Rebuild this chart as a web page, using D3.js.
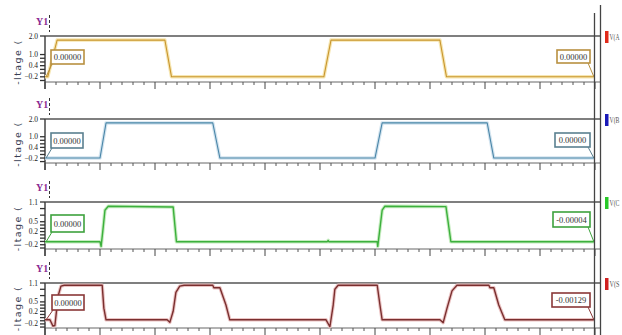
<!DOCTYPE html>
<html>
<head>
<meta charset="utf-8">
<script src="https://cdn.jsdelivr.net/npm/d3@7"></script>
<style>
  html, body { margin: 0; padding: 0; background: #fff; overflow: hidden; }
  svg { display: block; }
</style>
</head>
<body>
<svg id="chart" width="622" height="335"></svg>
<script>
// ---------------- DATA ----------------
const seriesNames = ["V(A", "V(B", "V(C", "V(S"];

// time axis (arbitrary units, 10 major divisions)
const xMajorTicks = [0, 10, 20, 30, 40, 50, 60, 70, 80, 90, 100];
const xMinorTicks = [2,4,6,8,12,14,16,18,22,24,26,28,32,34,36,38,42,44,46,48,52,54,56,58,62,64,66,68,72,74,76,78,82,84,86,88,92,94,96,98];

// y tick labels
const yLabelsAB = [2.0, 1.0, 0.4, -0.2];
const yMinorAB = [-0.4, -0.2, 0.0, 0.2, 0.4, 0.6, 0.8, 1.0, 2.0];
const yLabelsCS = [1.1, 0.5, 0.2, -0.2];
const yMinorCS = [-0.3, -0.2, -0.1, 0.0, 0.1, 0.2, 0.3, 0.4, 0.5, 0.7, 0.9, 1.1];

// waveforms
const timeA = [0, 0.5, 2.2, 21.8, 23.0, 50.7, 52.0, 71.8, 73.0, 99.8];
const voltA = [-0.2, -0.2, 1.78, 1.78, -0.2, -0.2, 1.78, 1.78, -0.2, -0.2];

const timeB = [0, 10.0, 11.1, 30.5, 31.8, 60.0, 61.3, 80.4, 81.6, 99.8];
const voltB = [-0.2, -0.2, 1.78, 1.78, -0.2, -0.2, 1.78, 1.78, -0.2, -0.2];

const timeC = [0, 10.0, 10.2, 10.5, 10.9, 11.5, 23.3, 23.9, 51.3, 51.5, 51.6, 60.4, 60.5, 60.9, 61.3, 61.8, 72.9, 73.8, 99.8];
const voltC = [-0.11, -0.11, -0.25, 0.2, 0.85, 0.97, 0.95, -0.11, -0.11, -0.07, -0.11, -0.11, -0.25, 0.3, 0.85, 0.97, 0.96, -0.11, -0.11];

const timeS = [0, 0.9, 1.45, 1.8, 2.4, 2.9, 3.5, 10.4, 10.7, 11.1, 22.2, 22.7, 23.3, 23.8, 24.5, 25.3, 30.5, 30.7, 31.8, 32.9, 33.6, 51.1, 51.8, 52.4, 52.7, 53.3, 60.4, 60.9, 61.3, 71.8, 72.4, 73.1, 74.0, 74.9, 80.7, 80.9, 81.6, 82.5, 83.6, 99.8];
const voltS = [-0.07, -0.07, -0.27, -0.25, 0.7, 1.0, 1.03, 1.03, 0.3, -0.07, -0.07, -0.15, 0.2, 0.8, 1.0, 1.03, 1.03, 0.95, 0.95, 0.4, -0.07, -0.07, -0.29, 0.4, 0.9, 1.03, 1.03, 0.4, -0.07, -0.07, -0.16, 0.3, 0.85, 1.03, 1.03, 0.95, 0.95, 0.4, -0.07, -0.07];

// cursor readouts
const leftCursor = ["0.00000", "0.00000", "0.00000", "0.00000"];
const rightCursor = ["0.00000", "0.00000", "-0.00004", "-0.00129"];

// ---------------- LAYOUT / STYLE ----------------
const panels = [
  { t: timeA, v: voltA, top: 36,  bottom: 82,  domain: [-0.48, 2.0], labels: yLabelsAB, minor: yMinorAB,
    stroke: "#c9962e", halo: "#f6e6b2", box: "#b89040", marker: "#e02a1a",
    lbox: [51, 50, 33, 14], rbox: [557, 50, 33, 13] },
  { t: timeB, v: voltB, top: 119, bottom: 163, domain: [-0.48, 2.0], labels: yLabelsAB, minor: yMinorAB,
    stroke: "#4a86a8", halo: "#d3e4ef", box: "#5a8090", marker: "#1a1ab8",
    lbox: [51, 133, 32, 15], rbox: [555, 133, 35, 14] },
  { t: timeC, v: voltC, top: 202, bottom: 249, domain: [-0.33, 1.1], labels: yLabelsCS, minor: yMinorCS,
    stroke: "#3cb03c", halo: "#c6ecc0", box: "#3ea23e", marker: "#28c828",
    lbox: [51, 215, 33, 17], rbox: [553, 212, 37, 15] },
  { t: timeS, v: voltS, top: 283, bottom: 328, domain: [-0.33, 1.1], labels: yLabelsCS, minor: yMinorCS,
    stroke: "#7a2f2f", halo: "#ebc4c4", box: "#8a3838", marker: "#d02020",
    lbox: [52, 295, 32, 15], rbox: [552, 293, 38, 14] }
];

const X0 = 45, X1 = 595;
const svg = d3.select("#chart");
const x = d3.scaleLinear().domain([0, 100]).range([X0, X1]);
const axisColor = "#444";
const fmt = d3.format(".1f");

panels.forEach((p, i) => {
  const g = svg.append("g");
  const y = d3.scaleLinear().domain(p.domain).range([p.bottom, p.top]);

  // Y1 label + dashed stub
  g.append("text").attr("x", 36).attr("y", p.top - 11)
    .attr("font-family", "Liberation Serif, serif").attr("font-size", 10).attr("font-weight", "bold")
    .attr("fill", "#8a2a90").text("Y1");
  g.append("line").attr("x1", 49.5).attr("x2", 49.5).attr("y1", p.top - 21).attr("y2", p.top - 4)
    .attr("stroke", "#333").attr("stroke-width", 1).attr("stroke-dasharray", "3,2");

  // axis title (truncated)
  g.append("text")
    .attr("transform", `translate(21,${(p.top + p.bottom) / 2 + 3}) rotate(-90)`)
    .attr("text-anchor", "middle")
    .attr("font-family", "DejaVu Sans, sans-serif").attr("font-size", 9.5)
    .attr("letter-spacing", 1.4)
    .attr("fill", "#3a3f55").text("-ltage (");

  // top frame line & bottom axis line
  g.append("line").attr("x1", X0).attr("x2", 601).attr("y1", p.top).attr("y2", p.top)
    .attr("stroke", "#555").attr("stroke-width", 1.6);
  g.append("line").attr("x1", X0).attr("x2", 601).attr("y1", p.bottom).attr("y2", p.bottom)
    .attr("stroke", "#666").attr("stroke-width", 1);

  // left y axis line
  g.append("line").attr("x1", X0).attr("x2", X0).attr("y1", p.top).attr("y2", p.bottom + 7)
    .attr("stroke", axisColor).attr("stroke-width", 1.5);

  // x ticks
  g.selectAll(".xmaj").data(xMajorTicks).enter().append("line")
    .attr("x1", d => x(d)).attr("x2", d => x(d)).attr("y1", p.bottom).attr("y2", p.bottom + 7)
    .attr("stroke", axisColor).attr("stroke-width", 1);
  g.selectAll(".xmin").data(xMinorTicks).enter().append("line")
    .attr("x1", d => x(d)).attr("x2", d => x(d)).attr("y1", p.bottom).attr("y2", p.bottom + 3)
    .attr("stroke", "#555").attr("stroke-width", 1);

  // y minor ticks
  g.selectAll(".ymin").data(p.minor).enter().append("line")
    .attr("x1", X0 - 5).attr("x2", X0).attr("y1", d => y(d)).attr("y2", d => y(d))
    .attr("stroke", "#333").attr("stroke-width", 1.3);
  // y labels
  g.selectAll(".ylab").data(p.labels).enter().append("text")
    .attr("x", 38).attr("y", d => y(d) + 2.5).attr("text-anchor", "end")
    .attr("font-family", "Liberation Serif, serif").attr("font-size", 7.5)
    .attr("fill", "#222").text(d => fmt(d));

  // trace
  const pts = p.t.map((t, k) => [t, p.v[k]]);
  const line = d3.line().x(d => x(d[0])).y(d => y(d[1]));
  g.append("path").datum(pts).attr("d", line).attr("fill", "none")
    .attr("stroke", p.halo).attr("stroke-width", 3.5).attr("stroke-linejoin", "round");
  g.append("path").datum(pts).attr("d", line).attr("fill", "none")
    .attr("stroke", p.stroke).attr("stroke-width", i >= 2 ? 1.4 : 1.1).attr("stroke-linejoin", "round");

  // leader lines
  const [lx, ly, lw, lh] = p.lbox;
  const [rx, ry, rw, rh] = p.rbox;
  g.append("line").attr("x1", x(0.2)).attr("y1", y(p.v[0])).attr("x2", lx + 1).attr("y2", ly + lh)
    .attr("stroke", p.box).attr("stroke-width", 1);
  g.append("line").attr("x1", rx + rw - 2).attr("y1", ry + rh).attr("x2", x(99.8)).attr("y2", y(p.v[p.v.length - 1]))
    .attr("stroke", p.box).attr("stroke-width", 1);

  // cursor boxes
  [[p.lbox, leftCursor[i]], [p.rbox, rightCursor[i]]].forEach(([b, txt]) => {
    g.append("rect").attr("x", b[0]).attr("y", b[1]).attr("width", b[2]).attr("height", b[3])
      .attr("fill", "#fff").attr("stroke", p.box).attr("stroke-width", 1.6);
    g.append("text").attr("x", b[0] + b[2] / 2).attr("y", b[1] + b[3] / 2 + 3)
      .attr("text-anchor", "middle")
      .attr("font-family", "Liberation Serif, serif").attr("font-size", 8.5)
      .attr("fill", "#333").text(txt);
  });

  // legend marker and name
  g.append("rect").attr("x", 605).attr("y", p.top - 5).attr("width", 3.5).attr("height", 12)
    .attr("fill", p.marker);
  g.append("text").attr("x", 609.5).attr("y", p.top + 4)
    .attr("font-family", "Liberation Serif, serif").attr("font-size", 7.5)
    .attr("textLength", 10).attr("lengthAdjust", "spacingAndGlyphs")
    .attr("fill", "#555").text(seriesNames[i]);
});

// right vertical frame lines
svg.append("line").attr("x1", 594.5).attr("x2", 594.5).attr("y1", 13).attr("y2", 335)
  .attr("stroke", "#444").attr("stroke-width", 1.3);
svg.append("line").attr("x1", 600.5).attr("x2", 600.5).attr("y1", 5).attr("y2", 335)
  .attr("stroke", "#444").attr("stroke-width", 1.3);
</script>
</body>
</html>
